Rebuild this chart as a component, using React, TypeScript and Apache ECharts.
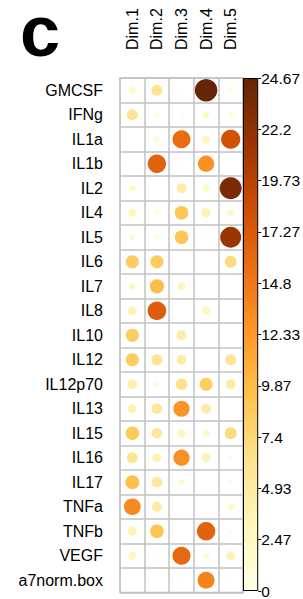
import React, { useEffect, useRef } from "react";
import * as echarts from "echarts";

const rows = ["GMCSF", "IFNg", "IL1a", "IL1b", "IL2", "IL4", "IL5", "IL6", "IL7", "IL8", "IL10", "IL12", "IL12p70", "IL13", "IL15", "IL16", "IL17", "TNFa", "TNFb", "VEGF", "a7norm.box"];
const dims = ["Dim.1", "Dim.2", "Dim.3", "Dim.4", "Dim.5"];

const dim1 = [2.5, 6.0, 0.4, 0.4, 2.4, 3.2, 1.8, 8.5, 2.4, 3.8, 8.5, 8.5, 4.5, 3.8, 8.8, 5.8, 9.5, 13.5, 3.8, 3.0, 0.2];
const dim2 = [6.0, 1.2, 1.6, 16.5, 0.2, 1.2, 1.2, 8.5, 9.8, 17.0, 0.4, 6.0, 1.2, 5.5, 5.5, 3.8, 5.5, 5.0, 9.0, 0.5, 0.2];
const dim3 = [0.5, 0.7, 15.8, 0.4, 4.8, 9.0, 9.0, 0.2, 3.2, 0.2, 4.8, 4.8, 6.5, 12.8, 3.2, 13.0, 1.6, 0.2, 0.2, 16.0, 0.5];
const dim4 = [24.665, 2.4, 3.2, 13.0, 2.4, 4.0, 0.5, 0.15, 0.15, 3.2, 0.4, 0.4, 8.3, 4.8, 2.4, 3.8, 0.4, 0.2, 16.5, 1.8, 14.0];
const dim5 = [1.2, 1.2, 18.0, 0.4, 23.5, 2.4, 21.5, 7.0, 0.2, 0.4, 0.4, 6.0, 4.8, 0.4, 7.0, 0.7, 0.7, 2.4, 0.7, 3.8, 0.5];

const colorbarLabels = ["0", "2.47", "4.93", "7.4", "9.87", "12.33", "14.8", "17.27", "19.73", "22.2", "24.67"];
const MAX = 24.665;
const STEP = MAX / 10;

const palette = ["#ffffe5", "#fff7bc", "#fee391", "#fec44f", "#fe9929", "#ec7014", "#cc4c02", "#993404", "#662506"];
const FONT = "'Liberation Sans', Arial, Helvetica, sans-serif";

export default function App() {
  const ref = useRef<HTMLDivElement>(null);
  useEffect(() => {
    if (!ref.current) return;
    const chart = echarts.init(ref.current, null, { renderer: "svg" });
    const cols = [dim1, dim2, dim3, dim4, dim5];
    const data: number[][] = [];
    cols.forEach((col, j) => col.forEach((v, i) => data.push([j, i, v])));
    const maxD = 22.5;
    const gridColor = "#c2c2c2";
    const top = 78;
    const height = 514.5;
    chart.setOption({
      animation: false,
      backgroundColor: "#ffffff",
      textStyle: { fontFamily: FONT },
      graphic: [
        {
          type: "text",
          x: 20,
          y: 31,
          style: { text: "c", font: `bold 72px ${FONT}`, lineHeight: 56, fill: "#000", verticalAlign: "middle", align: "left" },
        },
      ],
      grid: [
        { left: 120, top, width: 123, height, show: true, borderColor: gridColor, borderWidth: 1.5, backgroundColor: "#fff" },
        { left: 243, top, width: 18, height, show: false },
      ],
      xAxis: [
        {
          type: "category",
          data: dims,
          gridIndex: 0,
          position: "top",
          axisLine: { show: false },
          axisTick: { show: false },
          splitLine: { show: true, interval: 0, lineStyle: { color: gridColor, width: 1.5 } },
          axisLabel: { interval: 0, rotate: -90, fontSize: 16, margin: 28, color: "#000", fontFamily: FONT },
        },
        { type: "category", data: ["cb"], gridIndex: 1, show: false },
      ],
      yAxis: [
        {
          type: "category",
          data: rows,
          gridIndex: 0,
          inverse: true,
          axisLine: { show: false },
          axisTick: { show: false },
          splitLine: { show: true, interval: 0, lineStyle: { color: gridColor, width: 1.5 } },
          axisLabel: { interval: 0, fontSize: 16, margin: 17, color: "#000", fontFamily: FONT },
        },
        {
          type: "value",
          gridIndex: 1,
          position: "right",
          min: 0,
          max: MAX,
          interval: STEP,
          axisLine: { show: false },
          axisTick: { show: true, length: 3, lineStyle: { color: "#000", width: 1 } },
          splitLine: { show: false },
          axisLabel: {
            fontSize: 15.5,
            margin: 3,
            color: "#000",
            fontFamily: FONT,
            formatter: (v: number) => colorbarLabels[Math.round(v / STEP)] ?? "",
          },
        },
      ],
      visualMap: {
        type: "continuous",
        show: false,
        seriesIndex: 0,
        dimension: 2,
        min: 0,
        max: MAX,
        inRange: { color: palette },
      },
      series: [
        {
          type: "scatter",
          xAxisIndex: 0,
          yAxisIndex: 0,
          data,
          symbol: "circle",
          symbolSize: (val: number[]) => Math.max(1.5, maxD * Math.sqrt(val[2] / MAX)),
          itemStyle: { opacity: 1 },
          silent: true,
        },
        {
          type: "bar",
          xAxisIndex: 1,
          yAxisIndex: 1,
          data: [MAX],
          barWidth: "100%",
          silent: true,
          itemStyle: {
            borderColor: "#000",
            borderWidth: 1,
            color: new echarts.graphic.LinearGradient(
              0, 1, 0, 0,
              palette.map((c, k) => ({ offset: k / (palette.length - 1), color: c }))
            ),
          },
        },
      ],
    });
    return () => chart.dispose();
  }, []);
  return <div ref={ref} style={{ position: "fixed", left: 0, top: 0, width: 303, height: 599 }} />;
}
